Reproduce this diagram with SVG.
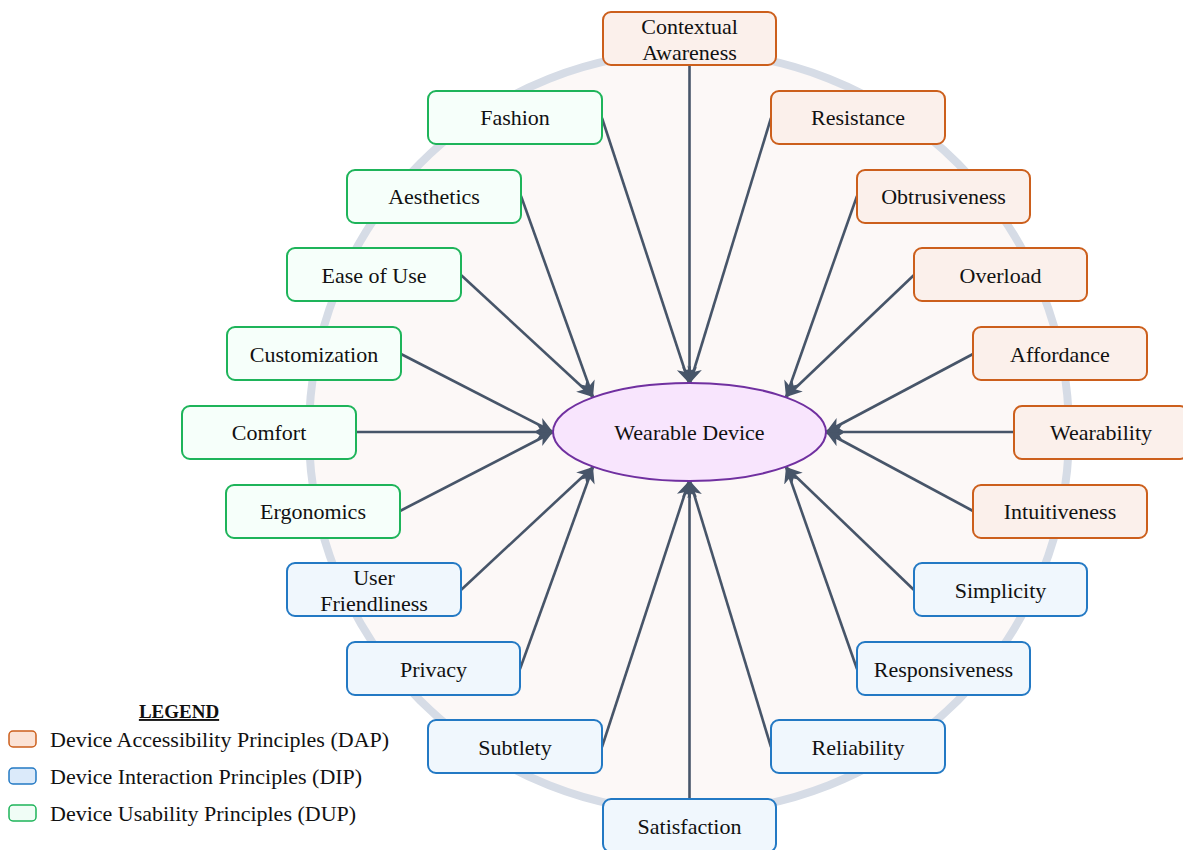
<svg xmlns="http://www.w3.org/2000/svg" width="1183" height="850" viewBox="0 0 1183 850">
  <defs>
    <marker id="arrow" markerUnits="userSpaceOnUse" markerWidth="18" markerHeight="16" refX="16" refY="7.5" orient="auto">
      <path d="M0,0 L16,7.5 L0,15 L4.5,7.5 Z" fill="#475569"/>
    </marker>
    <style>
      text { font-family: "Liberation Serif", "Times New Roman", serif; fill: #111; }
      .node text { font-size: 22px; text-anchor: middle; dominant-baseline: central; }
      .dap rect { fill: #fbf0eb; stroke: #cc5f1c; stroke-width: 2; }
      .dip rect { fill: #f0f7fd; stroke: #2379c4; stroke-width: 2; }
      .dup rect { fill: #f6fffa; stroke: #1eb45a; stroke-width: 2; }
      #connectors line { stroke: #475569; stroke-width: 2.6; marker-end: url(#arrow); }
      .legend text { font-size: 22px; }
      .legend text.title { font-size: 19px; font-weight: bold; text-anchor: middle; text-decoration: underline; }
    </style>
  </defs>

  <rect width="1183" height="850" fill="#ffffff"/>

  <!-- backdrop ring -->
  <circle cx="689" cy="432" r="380" fill="#fcf8f7" stroke="#d6dce6" stroke-width="8"/>

  <!-- connectors -->
  <g id="connectors">
    <line x1="689.5" y1="65" x2="689.5" y2="383"/>
    <line x1="602" y1="118" x2="689" y2="383"/>
    <line x1="771" y1="118" x2="690" y2="383"/>
    <line x1="521" y1="196" x2="593" y2="397"/>
    <line x1="461" y1="275" x2="593" y2="397"/>
    <line x1="857" y1="196" x2="786" y2="397"/>
    <line x1="914" y1="275" x2="786" y2="397"/>
    <line x1="401" y1="354" x2="553" y2="432"/>
    <line x1="356" y1="432" x2="553" y2="432"/>
    <line x1="400" y1="511" x2="553" y2="432"/>
    <line x1="973" y1="354" x2="826" y2="432"/>
    <line x1="1014" y1="432" x2="826" y2="432"/>
    <line x1="973" y1="511" x2="826" y2="432"/>
    <line x1="461" y1="590" x2="593" y2="467"/>
    <line x1="520" y1="669" x2="593" y2="467"/>
    <line x1="914" y1="590" x2="786" y2="467"/>
    <line x1="857" y1="669" x2="786" y2="467"/>
    <line x1="602" y1="747" x2="689" y2="481"/>
    <line x1="689.5" y1="799" x2="689.5" y2="481"/>
    <line x1="771" y1="747" x2="690" y2="481"/>
  </g>

  <!-- central node -->
  <g id="wearable-device" class="node">
    <ellipse cx="689.5" cy="432" rx="136.5" ry="49" fill="#f8e5fd" stroke="#7030a0" stroke-width="2"/>
    <text x="689.5" y="432">Wearable Device</text>
  </g>

  <!-- Device Accessibility Principles -->
  <g id="contextual-awareness" class="node dap">
    <rect x="603" y="12" width="173" height="53" rx="8"/>
    <text x="689.5" y="26">Contextual</text>
    <text x="689.5" y="52">Awareness</text>
  </g>
  <g id="resistance" class="node dap">
    <rect x="771" y="91" width="174" height="53" rx="8"/>
    <text x="858" y="117.5">Resistance</text>
  </g>
  <g id="obtrusiveness" class="node dap">
    <rect x="857" y="170" width="173" height="53" rx="8"/>
    <text x="943.5" y="196">Obtrusiveness</text>
  </g>
  <g id="overload" class="node dap">
    <rect x="914" y="248" width="173" height="53" rx="8"/>
    <text x="1000.5" y="275">Overload</text>
  </g>
  <g id="affordance" class="node dap">
    <rect x="973" y="327" width="174" height="53" rx="8"/>
    <text x="1060" y="354">Affordance</text>
  </g>
  <g id="wearability" class="node dap">
    <rect x="1014" y="406" width="174" height="53" rx="8"/>
    <text x="1101" y="432">Wearability</text>
  </g>
  <g id="intuitiveness" class="node dap">
    <rect x="973" y="485" width="174" height="53" rx="8"/>
    <text x="1060" y="511">Intuitiveness</text>
  </g>

  <!-- Device Interaction Principles -->
  <g id="simplicity" class="node dip">
    <rect x="914" y="563" width="173" height="53" rx="8"/>
    <text x="1000.5" y="590">Simplicity</text>
  </g>
  <g id="responsiveness" class="node dip">
    <rect x="857" y="642" width="173" height="53" rx="8"/>
    <text x="943.5" y="669">Responsiveness</text>
  </g>
  <g id="reliability" class="node dip">
    <rect x="771" y="720" width="174" height="53" rx="8"/>
    <text x="858" y="747">Reliability</text>
  </g>
  <g id="satisfaction" class="node dip">
    <rect x="603" y="799" width="173" height="53" rx="8"/>
    <text x="689.5" y="826">Satisfaction</text>
  </g>
  <g id="subtlety" class="node dip">
    <rect x="428" y="720" width="174" height="53" rx="8"/>
    <text x="515" y="747">Subtlety</text>
  </g>
  <g id="privacy" class="node dip">
    <rect x="347" y="642" width="173" height="53" rx="8"/>
    <text x="433.5" y="669">Privacy</text>
  </g>
  <g id="user-friendliness" class="node dip">
    <rect x="287" y="563" width="174" height="53" rx="8"/>
    <text x="374" y="577">User</text>
    <text x="374" y="603">Friendliness</text>
  </g>

  <!-- Device Usability Principles -->
  <g id="ergonomics" class="node dup">
    <rect x="226" y="485" width="174" height="53" rx="8"/>
    <text x="313" y="511">Ergonomics</text>
  </g>
  <g id="comfort" class="node dup">
    <rect x="182" y="406" width="174" height="53" rx="8"/>
    <text x="269" y="432">Comfort</text>
  </g>
  <g id="customization" class="node dup">
    <rect x="227" y="327" width="174" height="53" rx="8"/>
    <text x="314" y="354">Customization</text>
  </g>
  <g id="ease-of-use" class="node dup">
    <rect x="287" y="248" width="174" height="53" rx="8"/>
    <text x="374" y="275">Ease of Use</text>
  </g>
  <g id="aesthetics" class="node dup">
    <rect x="347" y="170" width="174" height="53" rx="8"/>
    <text x="434" y="196">Aesthetics</text>
  </g>
  <g id="fashion" class="node dup">
    <rect x="428" y="91" width="174" height="53" rx="8"/>
    <text x="515" y="117.5">Fashion</text>
  </g>

  <!-- legend -->
  <g id="legend" class="legend">
    <text class="title" x="179" y="718">LEGEND</text>
    <rect x="9" y="731" width="27" height="16" rx="4" fill="#fbe3d6" stroke="#cc5f1c" stroke-width="1.5"/>
    <text x="50" y="747">Device Accessibility Principles (DAP)</text>
    <rect x="9" y="768" width="27" height="16" rx="4" fill="#dbeafa" stroke="#2379c4" stroke-width="1.5"/>
    <text x="50" y="784">Device Interaction Principles (DIP)</text>
    <rect x="9" y="805" width="27" height="16" rx="4" fill="#f0fdf6" stroke="#1eb45a" stroke-width="1.5"/>
    <text x="50" y="821">Device Usability Principles (DUP)</text>
  </g>
</svg>
